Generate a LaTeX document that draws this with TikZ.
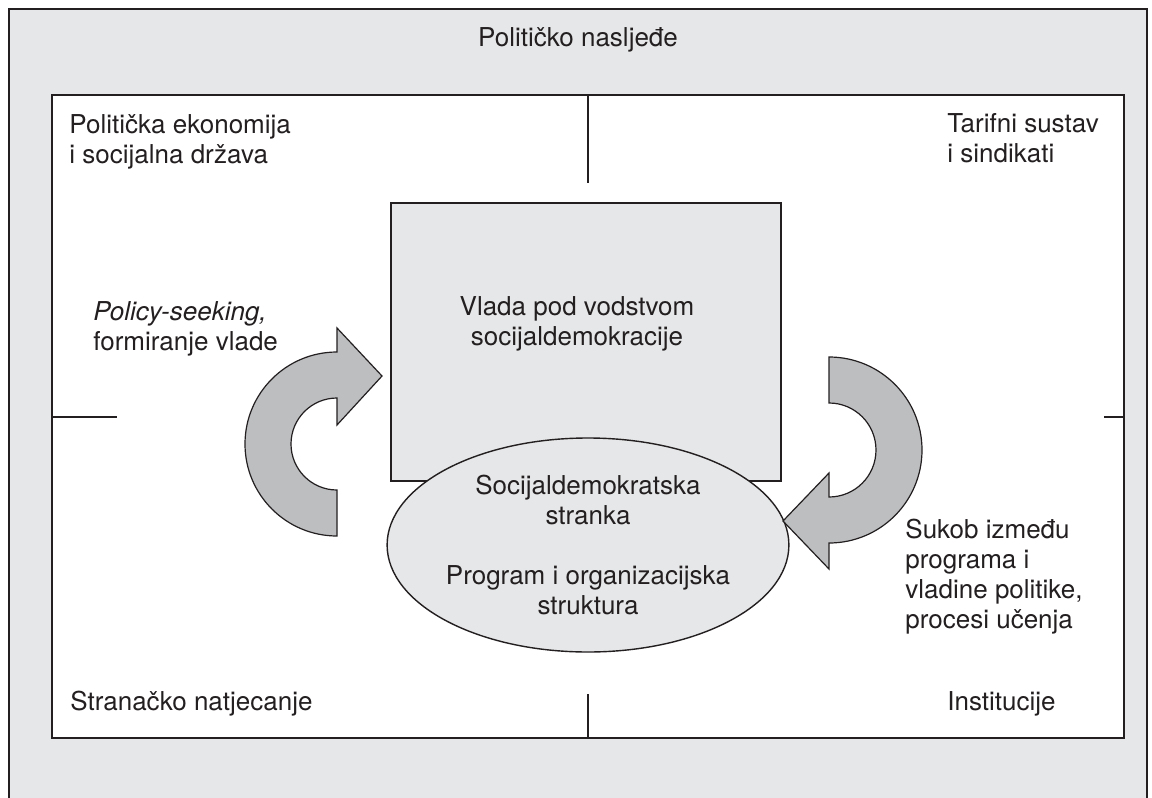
\documentclass[tikz,border=0pt]{standalone}
\usepackage{fontspec}
\setmainfont{TeX Gyre Heros}
\usepackage{tikz}
\usetikzlibrary{shapes.geometric}
\def\tickpos{417}

\definecolor{panelgray}{HTML}{E6E7E8}
\definecolor{arrowgray}{HTML}{BCBEC0}
\definecolor{ink}{HTML}{231F20}

\begin{document}
\begin{tikzpicture}[x=0.5pt,y=-0.5pt,font=\fontsize{13}{15}\selectfont]
  \tikzstyle{frame}=[draw=ink,line width=0.7pt]
  \tikzstyle{corner}=[inner sep=0pt,align=left,text=ink]
  \tikzstyle{core}=[draw=ink,fill=panelgray,line width=0.7pt,inner sep=0pt,text=ink]
  \tikzstyle{loop arrow}=[draw=ink,fill=arrowgray,line width=0.6pt,line join=miter]

  \useasboundingbox (0,0) rectangle (1152,798);
  \fill[panelgray] (9,9) rectangle (1147,798);
  \draw[frame] (9,798) -- (9,9) -- (1147,9) -- (1147,798);
  \draw[frame,fill=white] (52,95) rectangle (1124,738);

  \coordinate (mid-n) at (588,95);
  \coordinate (mid-s) at (588,738);
  \coordinate (mid-w) at (52,\tickpos);
  \coordinate (mid-e) at (1124,\tickpos);
  \draw[frame] (mid-n) -- ++(0,88);
  \draw[frame] (mid-s) -- ++(0,-44);
  \draw[frame] (mid-w) -- ++(65,0);
  \draw[frame] (mid-e) -- ++(-20,0);

  \node[core,minimum width=195pt,minimum height=139pt] (govt) at (586,342) {};
  \node[corner,align=center] (govt-text) at ([shift={(-9,-18)}]govt.center)
    {Vlada pod vodstvom\\socijaldemokracije};

  \node[core,ellipse,minimum width=172pt,minimum height=107pt,align=center] (party) at (588,545)
    {Socijaldemokratska\\stranka\\[15pt]Program i organizacijska\\struktura};

  \draw[loop arrow] (337,536) arc[start angle=90,end angle=270,radius=92]
    -- (337,328) -- (382,376) -- (337,425) -- (337,398)
    arc[start angle=270,end angle=90,radius=46] -- cycle;
  \draw[loop arrow] (829,403) -- (829,357) arc[start angle=-90,end angle=90,radius=93]
    -- (829,569) -- (783,521) -- (829,473) -- (829,497)
    arc[start angle=90,end angle=-90,radius=47] -- cycle;

  \node[corner,anchor=base] (heritage) at (578,46) {Političko nasljeđe};
  \node[corner,anchor=north west] (economy) at (69,114) {Politička ekonomija\\i socijalna država};
  \node[corner,anchor=north west] (tariff) at (947,113) {Tarifni sustav\\i sindikati};
  \node[corner,anchor=base west] (competition) at (70,710) {Stranačko natjecanje};
  \node[corner,anchor=base west] (institutions) at (947,710) {Institucije};
  \node[corner,anchor=north west] (policy) at (93,301) {\textit{Policy-seeking,}\\formiranje vlade};
  \node[corner,anchor=north west] (conflict) at (905,519)
    {Sukob između\\programa i\\vladine politike,\\procesi učenja};
\end{tikzpicture}
\end{document}
